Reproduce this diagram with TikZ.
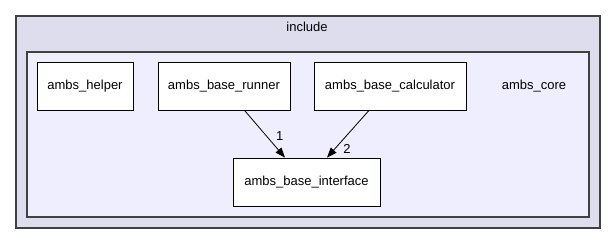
\documentclass[tikz,border=0pt]{standalone}
\usepackage{fontspec}
\setmainfont{Liberation Sans}
\usepackage{tikz}
\usetikzlibrary{positioning, arrows.meta}

\definecolor{dirouter}{HTML}{DDDDEE}
\definecolor{dirinner}{HTML}{EEEEFF}
\definecolor{dirline}{HTML}{404040}

\begin{document}
\begin{tikzpicture}[
  x=1pt, y=-1pt,
  font=\fontsize{13}{15}\selectfont,
  cluster/.style={draw=dirline, line width=1.1pt},
  dirbox/.style={draw, fill=white, line width=0.8pt, minimum height=48pt,
    inner sep=0pt, align=center},
  dep/.style={-{Triangle[length=10pt, width=7.5pt]}, line width=0.8pt},
]
  \useasboundingbox (0,0) rectangle (616,244);

  % directory clusters
  \draw[cluster, fill=dirouter] (16,16) rectangle (600,228);
  \draw[cluster, fill=dirinner] (27,52) rectangle (589,217);
  \node (incl) at (307,27) {include};
  \node (core) at (534,86) {ambs\_core};

  % sub directories
  \node[dirbox, minimum width=96pt] (helper) at (85,86) {ambs\_helper};
  \node[dirbox, minimum width=132pt] (runner) at (224,86) {ambs\_base\_runner};
  \node[dirbox, minimum width=152pt] (calc) at (390,86) {ambs\_base\_calculator};
  \node[dirbox, minimum width=147pt] (iface) at (306.5,182) {ambs\_base\_interface};

  \draw[dep] ([xshift=20.5pt]runner.south) -- ([xshift=-21.5pt]iface.north)
    node[pos=0.55, right=5.5pt] (n1) {1};
  \draw[dep] ([xshift=-21pt]calc.south) -- ([xshift=20.5pt]iface.north)
    node[pos=0.82, right=5pt] (n2) {2};
\end{tikzpicture}
\end{document}
